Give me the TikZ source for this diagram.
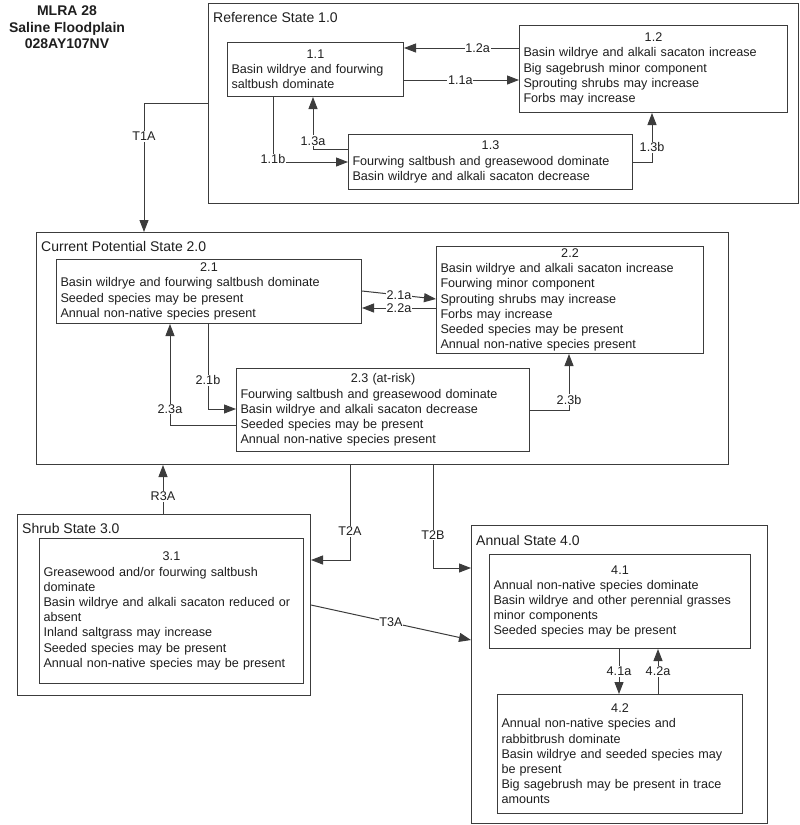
\documentclass[tikz,border=0pt]{standalone}
\usepackage{fontspec}
\setmainfont{Liberation Sans}
\usepackage{tikz}
\usetikzlibrary{arrows.meta,positioning}
\definecolor{lineGray}{RGB}{60,60,60}
\definecolor{textGray}{RGB}{30,30,30}
\newcommand{\stnum}[1]{{\centering #1\par}}
\tikzset{
    box/.style 2 args={rectangle, draw=lineGray, line width=1pt, anchor=north west, align=left, minimum width=#1pt, minimum height=#2pt, text width=#1pt-8pt, inner xsep=4pt, inner ysep=1pt, text=textGray, font=\fontsize{12.6}{15.2}\selectfont},
    statebox/.style 2 args={rectangle, draw=lineGray, line width=1pt, anchor=north west, minimum width=#1pt, minimum height=#2pt, inner sep=0pt}
}

\begin{document}
\begin{tikzpicture}[
        x=1pt, y=-1pt,
        statename/.style={anchor=base west, inner sep=0pt, text=textGray, font=\fontsize{14}{16}\selectfont},
        arrow/.style={-{Triangle[length=12pt,width=9pt]}, draw=lineGray, line width=1pt},
        lbl/.style={fill=white, inner sep=0.8pt, text=textGray, font=\fontsize{12.6}{15}\selectfont}
    ]
    \useasboundingbox (0,0) rectangle (800,825);

    % Titre
    \node[align=center, anchor=north, inner sep=0pt, text=textGray, font=\bfseries\fontsize{14}{16.5}\selectfont] (title) at (67,6) {MLRA 28\\Saline Floodplain\\028AY107NV};

    % Etats
    \node[statebox={590}{200}] (ref) at (208,3) {};
    \node[statename] (refname) at ([xshift=5pt,yshift=-19pt]ref.north west) {Reference State 1.0};
    \node[statebox={692}{232}] (cur) at (36,232) {};
    \node[statename] (curname) at ([xshift=5pt,yshift=-19pt]cur.north west) {Current Potential State 2.0};
    \node[statebox={293}{181}] (shrub) at (17,514) {};
    \node[statename] (shrubname) at ([xshift=5pt,yshift=-19pt]shrub.north west) {Shrub State 3.0};
    \node[statebox={296}{298}] (annual) at (471,525) {};
    \node[statename] (annualname) at ([xshift=5pt,yshift=-20pt]annual.north west) {Annual State 4.0};

    % Communautes
    \node[box={176}{54}] (b11) at (227,42) {\stnum{1.1}Basin wildrye and fourwing\\saltbush dominate};
    \node[box={268}{87}] (b12) at (519,25) {\stnum{1.2}Basin wildrye and alkali sacaton increase\\Big sagebrush minor component\\Sprouting shrubs may increase\\Forbs may increase};
    \node[box={284}{55}] (b13) at (348,134) {\stnum{1.3}Fourwing saltbush and greasewood dominate\\Basin wildrye and alkali sacaton decrease};
    \node[box={305}{64}] (b21) at (56,259) {\stnum{2.1}Basin wildrye and fourwing saltbush dominate\\Seeded species may be present\\Annual non-native species present};
    \node[box={267}{107}] (b22) at (436,246) {\stnum{2.2}Basin wildrye and alkali sacaton increase\\Fourwing minor component\\Sprouting shrubs may increase\\Forbs may increase\\Seeded species may be present\\Annual non-native species present};
    \node[box={293}{83}] (b23) at (236,368) {\stnum{2.3 (at-risk)}Fourwing saltbush and greasewood dominate\\Basin wildrye and alkali sacaton decrease\\Seeded species may be present\\Annual non-native species present};
    \node[box={260}{145}, text width=256pt] (b31) at (39,538) {\stnum{3.1}Greasewood and/or fourwing saltbush\\dominate\\Basin wildrye and alkali sacaton reduced or\\absent\\Inland saltgrass may increase\\Seeded species may be present\\Annual non-native species may be present};
    \node[box={261}{94}] (b41) at (489,554) {\stnum{4.1}Annual non-native species dominate\\Basin wildrye and other perennial grasses\\minor components\\Seeded species may be present};
    \node[box={245}{119}] (b42) at (497,694) {\stnum{4.2}Annual non-native species and\\rabbitbrush dominate\\Basin wildrye and seeded species may\\be present\\Big sagebrush may be present in trace\\amounts};

    % Transitions entre etats
    \draw[arrow] ([yshift=-100pt]ref.north west) -| ([xshift=108pt]cur.north west) node[lbl, pos=0.63] (lT1A) {T1A};
    \draw[arrow] ([xshift=146pt]shrub.north west) -- ([xshift=146pt]shrub.north west |- cur.south) node[lbl, pos=0.36] (lR3A) {R3A};
    \draw[arrow] ([xshift=314pt]cur.south west) |- ([yshift=-46pt]shrub.north east) node[lbl, pos=0.35] (lT2A) {T2A};
    \draw[arrow] ([xshift=397pt]cur.south west) |- ([yshift=-43pt]annual.north west) node[lbl, pos=0.34] (lT2B) {T2B};
    \draw[arrow] ([yshift=-91pt]shrub.north east) -- ([yshift=-115pt]annual.north west) node[lbl, pos=0.5] (lT3A) {T3A};

    % Chemins internes
    \draw[arrow] ([yshift=-23pt]b12.north west) -- ([yshift=-23pt]b11.east |- b12.north west) node[lbl, pos=0.36] (l12a) {1.2a};
    \draw[arrow] ([yshift=-38pt]b11.north east) -- ([yshift=-38pt]b12.west |- b11.north east) node[lbl, pos=0.49] (l11a) {1.1a};
    \draw[arrow] ([xshift=46pt]b11.south west) |- ([yshift=-28pt]b13.north west) node[lbl, pos=0.5, yshift=3pt] (l11b) {1.1b};
    \draw[arrow] ([yshift=-15pt]b13.north west) -| ([xshift=86pt]b11.south west) node[lbl, pos=0.58] (l13a) {1.3a};
    \draw[arrow] ([yshift=-28pt]b13.north east) -| ([xshift=133pt]b12.south west) node[lbl, pos=0.65] (l13b) {1.3b};
    \draw[arrow] ([yshift=-32pt]b21.north east) -- ([yshift=-53pt]b22.north west) node[lbl, pos=0.5] (l21a) {2.1a};
    \draw[arrow] ([yshift=-62pt]b22.north west) -- ([yshift=-62pt]b21.east |- b22.north west) node[lbl, pos=0.5] (l22a) {2.2a};
    \draw[arrow] ([xshift=152pt]b21.south west) |- ([yshift=-41pt]b23.north west) node[lbl, pos=0.33] (l21b) {2.1b};
    \draw[arrow] ([yshift=-57pt]b23.north west) -| ([xshift=114pt]b21.south west) node[lbl, pos=0.58] (l23a) {2.3a};
    \draw[arrow] ([yshift=-42pt]b23.north east) -| ([xshift=133pt]b22.south west) node[lbl, pos=0.59] (l23b) {2.3b};
    \draw[arrow] ([xshift=130pt]b41.south west) -- ([xshift=130pt]b41.south west |- b42.north) node[lbl, pos=0.5] (l41a) {4.1a};
    \draw[arrow] ([xshift=161pt]b42.north west) -- ([xshift=161pt]b42.north west |- b41.south) node[lbl, pos=0.5] (l42a) {4.2a};

\end{tikzpicture}
\end{document}
